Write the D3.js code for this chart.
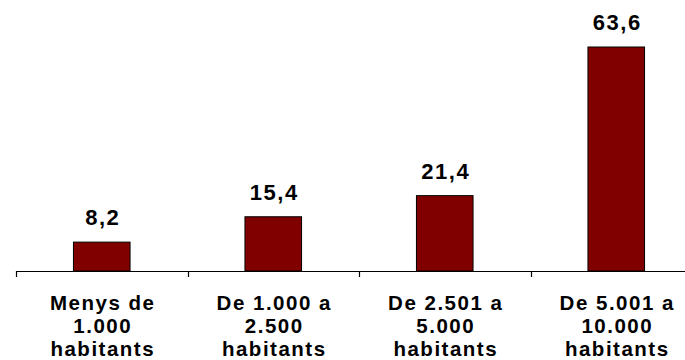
<!DOCTYPE html>
<html><head><meta charset="utf-8">
<script src="https://cdn.jsdelivr.net/npm/d3@7"></script>
<style>body{margin:0;background:#fff}svg{display:block}</style>
</head><body>
<script>
const categories = [
  ["Menys de", "1.000", "habitants"],
  ["De 1.000 a", "2.500", "habitants"],
  ["De 2.501 a", "5.000", "habitants"],
  ["De 5.001 a", "10.000", "habitants"]
];
const values = [8.2, 15.4, 21.4, 63.6];
const valueLabels = ["8,2", "15,4", "21,4", "63,6"];

const W = 685, H = 360;
const axisY = 271, left = 16, right = 702;
const svg = d3.select("body").append("svg").attr("width", W).attr("height", H);
const font = "Arial, 'Liberation Sans', sans-serif";

const x = d3.scaleBand().domain(d3.range(categories.length)).range([left, right]).padding(0);
const y = d3.scaleLinear().domain([0, 63.6]).range([axisY, 47]);
const bw = x.bandwidth() * 0.33;

svg.append("g").selectAll("rect").data(values).join("rect")
  .attr("x", (d, i) => x(i) + x.bandwidth() / 2 - bw / 2)
  .attr("y", d => y(d))
  .attr("width", bw)
  .attr("height", d => axisY - y(d))
  .attr("fill", "#800000")
  .attr("stroke", "#000")
  .attr("stroke-width", 1);

// axis
const ax = svg.append("g");
ax.append("line").attr("x1", left).attr("x2", W).attr("y1", axisY + 0.5).attr("y2", axisY + 0.5)
  .attr("stroke", "#000").attr("stroke-width", 1.2);
ax.selectAll("line.tick").data(d3.range(categories.length + 1)).join("line").attr("class", "tick")
  .attr("x1", i => Math.round(left + i * x.step()) + 0.5)
  .attr("x2", i => Math.round(left + i * x.step()) + 0.5)
  .attr("y1", axisY).attr("y2", axisY + 6)
  .attr("stroke", "#000").attr("stroke-width", 1.2);

// value labels
svg.append("g").selectAll("text").data(values).join("text")
  .attr("x", (d, i) => x(i) + x.bandwidth() / 2 + 1)
  .attr("y", d => y(d) - 17)
  .attr("text-anchor", "middle")
  .attr("font-family", font).attr("font-weight", "bold")
  .attr("font-size", 22).attr("letter-spacing", 1.5)
  .text((d, i) => valueLabels[i]);

// category labels
const cg = svg.append("g").selectAll("text").data(categories).join("text")
  .attr("text-anchor", "middle")
  .attr("font-family", font).attr("font-weight", "bold")
  .attr("font-size", 20.5).attr("letter-spacing", 1.5);
cg.each(function (d, i) {
  d3.select(this).selectAll("tspan").data(d).join("tspan")
    .attr("x", x(i) + x.bandwidth() / 2 + 1)
    .attr("y", (t, j) => 309.5 + j * 23)
    .text(t => t);
});
</script>
</body></html>
